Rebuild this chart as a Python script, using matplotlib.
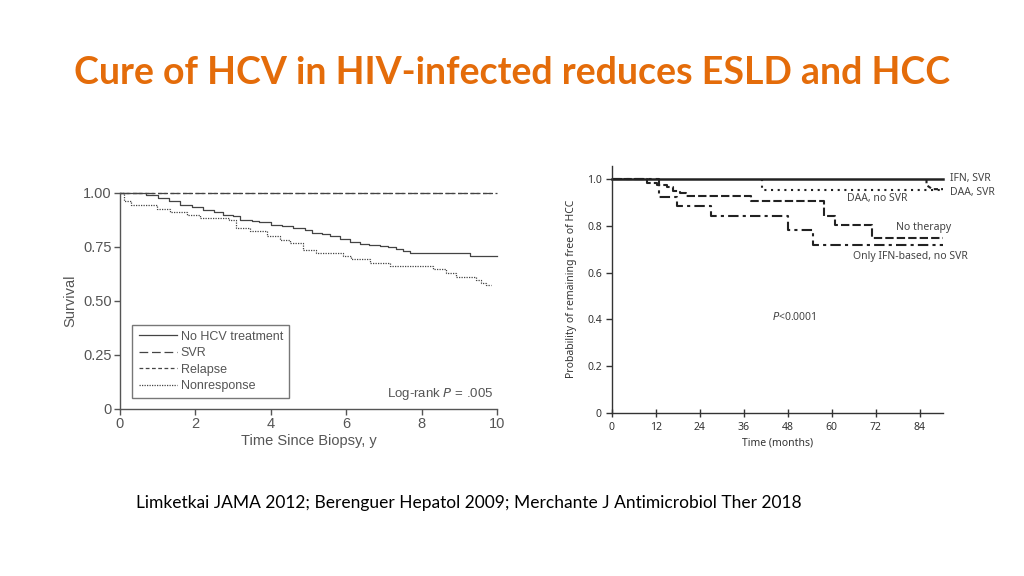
import matplotlib
matplotlib.use("Agg")
import matplotlib.pyplot as plt

# left panel: Limketkai JAMA 2012 (survival, years)
no_tx_t = [0, 0.4, 0.7, 1.0, 1.3, 1.6, 1.9, 2.2, 2.5, 2.74, 3.0, 3.18, 3.5, 3.7, 4.0,
           4.3, 4.6, 4.9, 5.1, 5.35, 5.57, 5.83, 6.1, 6.36, 6.6, 6.9, 7.1, 7.33, 7.5,
           7.69, 9.28, 10.0]
no_tx_s = [1.0, 0.998, 0.99, 0.975, 0.965, 0.945, 0.935, 0.92, 0.91, 0.9, 0.893, 0.876,
           0.87, 0.864, 0.853, 0.845, 0.837, 0.828, 0.817, 0.808, 0.80, 0.785, 0.775,
           0.765, 0.76, 0.755, 0.748, 0.74, 0.732, 0.723, 0.709, 0.709]
nonresp_t = [0, 0.1, 0.3, 0.97, 1.33, 1.77, 2.12, 2.9, 3.09, 3.45, 3.89, 4.24, 4.5, 4.86,
             5.2, 5.92, 6.14, 6.63, 7.16, 8.3, 8.66, 8.92, 9.45, 9.58, 9.7, 9.85]
nonresp_s = [1.0, 0.961, 0.945, 0.926, 0.91, 0.90, 0.884, 0.876, 0.837, 0.822, 0.80,
             0.783, 0.768, 0.737, 0.724, 0.709, 0.693, 0.675, 0.663, 0.647, 0.628, 0.61,
             0.598, 0.582, 0.574, 0.574]
svr_t = [0, 9.85]
svr_s = [1.0, 1.0]
relapse_t = [0, 10.0]
relapse_s = [1.0, 1.0]

# right panel: HCC-free probability (months)
ifn_svr_t = [0, 90.4]
ifn_svr_p = [1.0, 1.0]
daa_nosvr_t = [41, 41, 90.4]
daa_nosvr_p = [1.0, 0.955, 0.955]
daa_svr_t = [85.9, 85.9, 87.5, 90.4]
daa_svr_p = [1.0, 0.974, 0.957, 0.957]
no_ther_t = [0, 9.5, 12.3, 15.0, 16.8, 18.6, 20.4, 38.1, 57.9, 61.0, 71.1, 90.4]
no_ther_p = [1.0, 0.984, 0.974, 0.964, 0.95, 0.939, 0.929, 0.907, 0.842, 0.803, 0.746, 0.746]
ifn_only_t = [0, 13.0, 17.7, 27.0, 48.0, 55.0, 90.4]
ifn_only_p = [1.0, 0.925, 0.884, 0.842, 0.782, 0.718, 0.718]

W, H = 1024, 576
fig = plt.figure(figsize=(W / 100, H / 100), dpi=100)
fig.patch.set_facecolor("white")

fig.text(512 / W, 1 - 73 / H, "Cure of HCV in HIV-infected reduces ESLD and HCC",
         ha="center", va="center", color="#E46C0A", fontsize=27, fontweight="bold",
         family="Lato")
fig.text(136 / W, 1 - 503 / H,
         "Limketkai JAMA 2012; Berenguer Hepatol 2009; Merchante J Antimicrobiol Ther 2018",
         ha="left", va="center", color="black", fontsize=12.5, family="Lato")

# ---- left panel ----
gray = "#555555"
ax1 = fig.add_axes([120 / W, 1 - 409 / H, (497 - 120) / W, (409 - 193) / H])
ax1.step(no_tx_t, no_tx_s, where="post", color="#444444", lw=0.9, label="No HCV treatment", clip_on=False)
ax1.plot(svr_t, svr_s, color="#444444", lw=0.9, dashes=(7, 3), label="SVR", clip_on=False)
ax1.plot(relapse_t, relapse_s, color="#444444", lw=0.9, dashes=(3, 2), label="Relapse", clip_on=False)
ax1.step(nonresp_t, nonresp_s, where="post", color="#444444", lw=0.9, dashes=(1, 1),
         label="Nonresponse", clip_on=False)
ax1.set_xlim(0, 10)
ax1.set_ylim(0, 1.0)
ax1.set_xticks([0, 2, 4, 6, 8, 10])
ax1.set_yticks([0, 0.25, 0.5, 0.75, 1.0])
ax1.set_yticklabels(["0", "0.25", "0.50", "0.75", "1.00"])
for s in ["top", "right"]:
    ax1.spines[s].set_visible(False)
for s in ["left", "bottom"]:
    ax1.spines[s].set_color(gray)
    ax1.spines[s].set_linewidth(1.0)
ax1.tick_params(colors=gray, labelcolor=gray, labelsize=10.5, length=4, width=1.0, pad=2)
for lab in ax1.get_xticklabels() + ax1.get_yticklabels():
    lab.set_family("Liberation Sans")
ax1.set_xlabel("Time Since Biopsy, y", color=gray, fontsize=10.5, family="Liberation Sans", labelpad=2)
ax1.set_ylabel("Survival", color=gray, fontsize=10.5, family="Liberation Sans", labelpad=4)
leg = ax1.legend(loc="lower left", bbox_to_anchor=(0.033, 0.05), frameon=True, fancybox=False,
                 handlelength=3.1, handletextpad=0.25, borderpad=0.5, labelspacing=0.35,
                 borderaxespad=0, prop={"family": "Liberation Sans", "size": 9})
leg.get_frame().set_edgecolor(gray)
leg.get_frame().set_linewidth(1.0)
for t in leg.get_texts():
    t.set_color(gray)
ax1.text(0.99, 0.07, "Log-rank $\\it{P}$ = .005", transform=ax1.transAxes, ha="right",
         va="center", color=gray, fontsize=9.5, family="Liberation Sans")

# ---- right panel ----
dark = "#333333"
ax2 = fig.add_axes([611.7 / W, 1 - 412.7 / H, (943 - 611.7) / W, (412.7 - 166) / H])
ax2.plot(ifn_svr_t, ifn_svr_p, color="#222222", lw=1.8, clip_on=False)
ax2.plot(daa_nosvr_t, daa_nosvr_p, color="#222222", lw=1.5, dashes=(1, 2.2), clip_on=False)
ax2.plot(daa_svr_t, daa_svr_p, color="#222222", lw=1.5, dashes=(2, 1.5), clip_on=False)
ax2.step(no_ther_t, no_ther_p, where="post", color="#222222", lw=1.5, dashes=(4, 1.5), clip_on=False)
ax2.step(ifn_only_t, ifn_only_p, where="post", color="#222222", lw=1.5, dashes=(5, 2, 1.5, 2), clip_on=False)
ax2.set_xlim(0, 90.4)
ax2.set_ylim(0, 1.056)
ax2.set_xticks([0, 12, 24, 36, 48, 60, 72, 84])
ax2.set_yticks([0, 0.2, 0.4, 0.6, 0.8, 1.0])
ax2.set_yticklabels(["0", "0.2", "0.4", "0.6", "0.8", "1.0"])
for s in ["top", "right"]:
    ax2.spines[s].set_visible(False)
for s in ["left", "bottom"]:
    ax2.spines[s].set_color(dark)
    ax2.spines[s].set_linewidth(1.0)
ax2.tick_params(axis="x", direction="inout", length=6, width=1.0, colors=dark, labelsize=7.5, pad=4)
ax2.tick_params(axis="y", direction="out", length=4, width=1.0, colors=dark, labelsize=7.5, pad=3)
for lab in ax2.get_xticklabels() + ax2.get_yticklabels():
    lab.set_family("Noto Sans")
ax2.set_xlabel("Time (months)", color=dark, fontsize=7.5, family="Noto Sans", labelpad=3)
ax2.set_ylabel("Probability of remaining free of HCC", color=dark, fontsize=7.5,
               family="Noto Sans", labelpad=7)

lab_kw = dict(color="#444444", fontsize=7.5, family="Noto Sans", va="center")
ax2.annotate("IFN, SVR", xy=(950 / W, 1 - 178 / H), xycoords="figure fraction", **lab_kw)
ax2.annotate("DAA, SVR", xy=(950 / W, 1 - 193 / H), xycoords="figure fraction", **lab_kw)
ax2.annotate("DAA, no SVR", xy=(847 / W, 1 - 199 / H), xycoords="figure fraction", **lab_kw)
ax2.annotate("No therapy", xy=(896 / W, 1 - 228 / H), xycoords="figure fraction", **lab_kw)
ax2.annotate("Only IFN-based, no SVR", xy=(853 / W, 1 - 257 / H), xycoords="figure fraction", **lab_kw)
ax2.annotate("$\\it{P}$<0.0001", xy=(772 / W, 1 - 317 / H), xycoords="figure fraction", **lab_kw)

fig.savefig("out.png", dpi=100, facecolor="white")
